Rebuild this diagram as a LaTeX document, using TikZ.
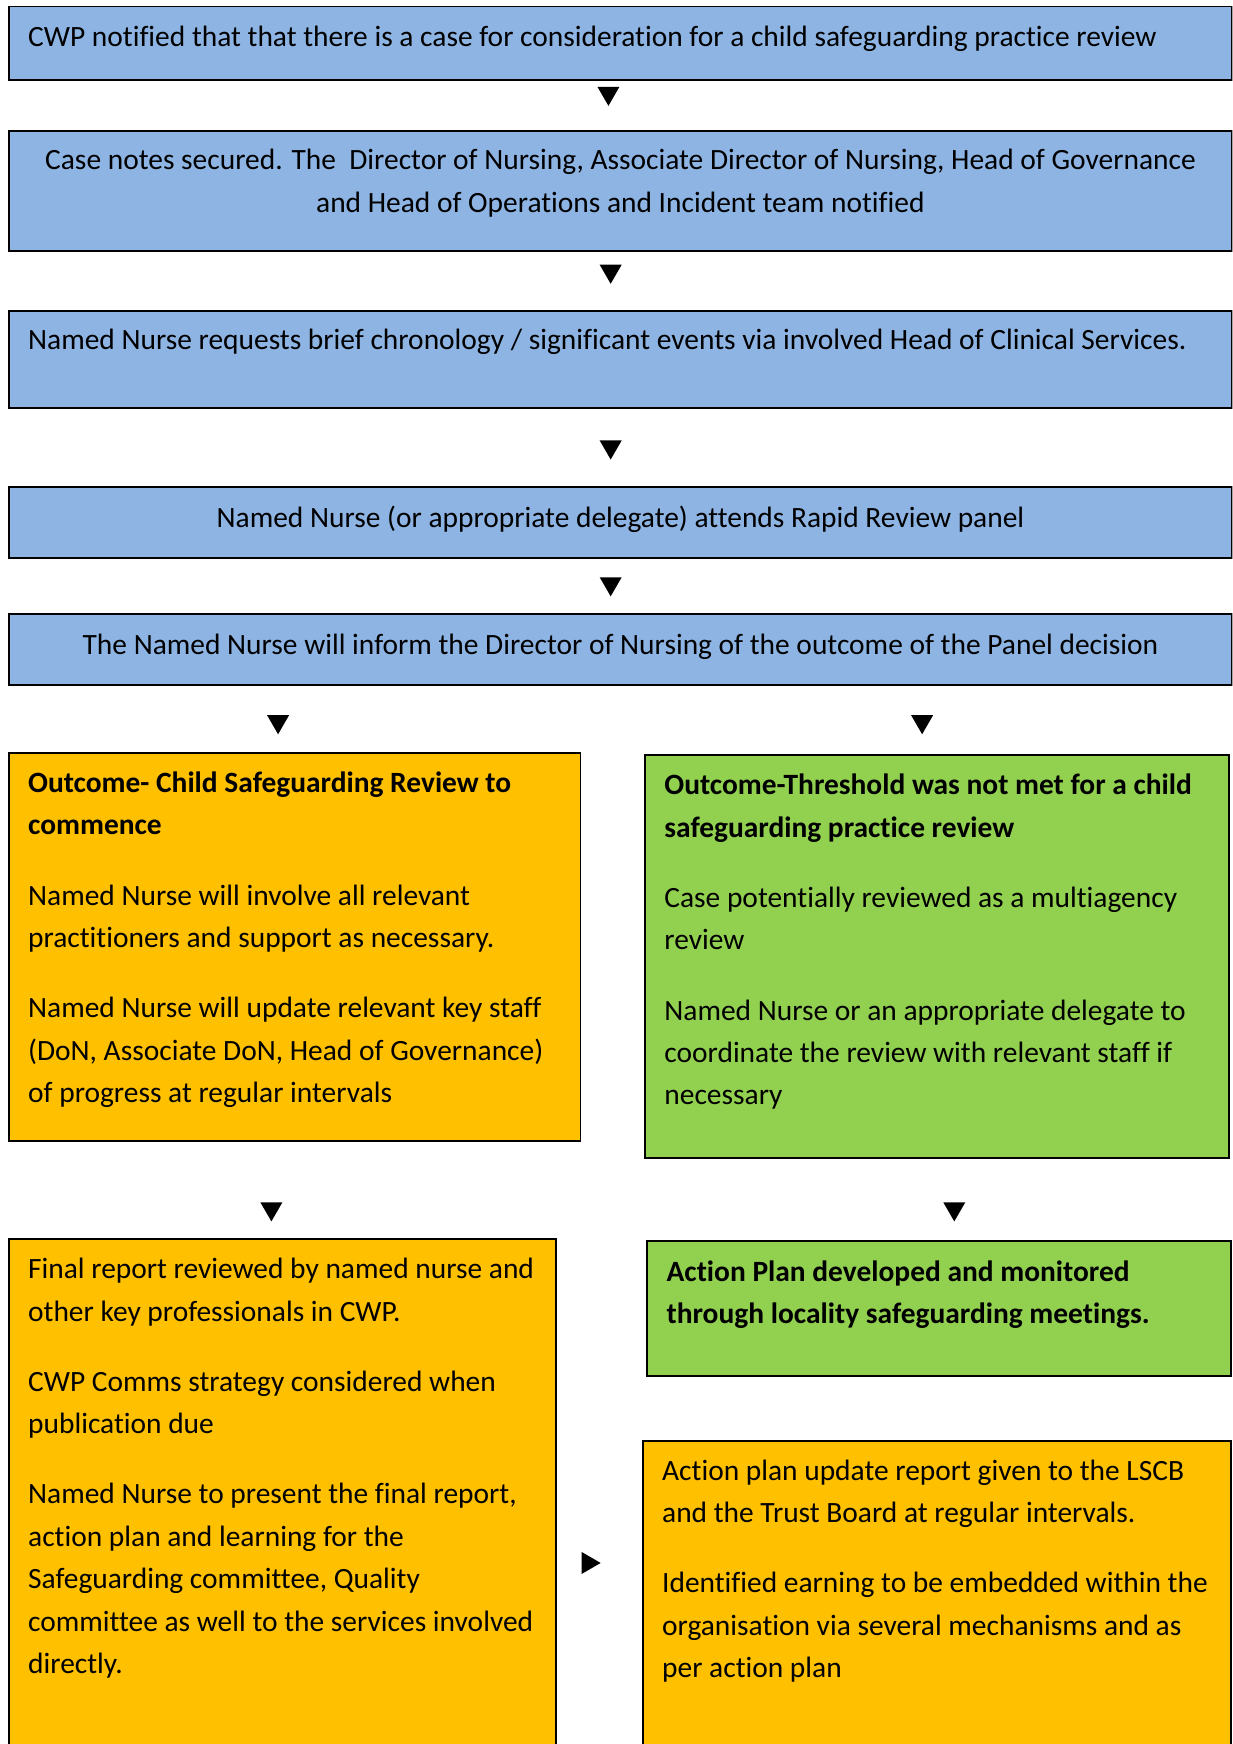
\documentclass[tikz,border=0pt]{standalone}
\usepackage{fontspec}
\setmainfont{Carlito}[Ligatures=NoCommon]
\usepackage{tikz}
\usetikzlibrary{positioning,shapes.geometric}
\definecolor{BoxBlue}{HTML}{8EB4E3}
\definecolor{BoxOrange}{HTML}{FFC000}
\definecolor{BoxGreen}{HTML}{92D050}
\newcommand{\flowfont}{\fontsize{16.75pt}{24.15pt}\selectfont}

\begin{document}
\begin{tikzpicture}[every node/.style={font=\flowfont},
  stage/.style={draw=black, line width=1.1pt, inner sep=0pt, anchor=north west},
  bluebox/.style={stage, fill=BoxBlue, minimum width=24.46cm},
  orangebox/.style={stage, fill=BoxOrange},
  greenbox/.style={stage, fill=BoxGreen},
  txt/.style={align=left, inner sep=0pt},
  midtxt/.style={align=center, inner sep=0pt},
  downtri/.style={regular polygon, regular polygon sides=3, shape border rotate=180,
    fill=black, inner sep=0pt, minimum size=0.508cm}]
  \useasboundingbox (0,0) rectangle (24.64,-34.87);
  \clip (0,0) rectangle (24.64,-34.87);

  % Panel process (blue)
  \node[bluebox, minimum height=1.468cm] (notify) at (0.156,-0.111) {};
  \node[txt, below right=0.398cm and 0.40cm of notify.north west] (notifyTxt)
    {CWP notified that that there is a case for consideration for a child safeguarding practice review};
  \node[bluebox, minimum height=2.402cm] (secure) at (0.156,-2.602) {};
  \node[midtxt, below=0.375cm of secure.north] (secureTxt)
    {Case notes secured. The\ \ Director of Nursing, Associate Director of Nursing, Head of Governance\\
     and Head of Operations and Incident team notified};
  \node[bluebox, minimum height=1.935cm] (chrono) at (0.156,-6.205) {};
  \node[txt, below right=0.375cm and 0.40cm of chrono.north west] (chronoTxt)
    {Named Nurse requests brief chronology / significant events via involved Head of Clinical Services.};
  \node[bluebox, minimum height=1.424cm] (panel) at (0.156,-9.718) {};
  \node[midtxt, below=0.398cm of panel.north] (panelTxt)
    {Named Nurse (or appropriate delegate) attends Rapid Review panel};
  \node[bluebox, minimum height=1.423cm] (inform) at (0.156,-12.254) {};
  \node[midtxt, below=0.419cm of inform.north] (informTxt)
    {The Named Nurse will inform the Director of Nursing of the outcome of the Panel decision};

  % Outcomes
  \node[orangebox, minimum width=11.431cm, minimum height=7.762cm] (review) at (0.156,-15.034) {};
  \node[txt, below right=0.39cm and 0.40cm of review.north west] (reviewTxt)
    {\textbf{Outcome- Child Safeguarding Review to}\\
     \textbf{commence}\\[15.8pt]
     Named Nurse will involve all relevant\\
     practitioners and support as necessary.\\[15.8pt]
     Named Nurse will update relevant key staff\\
     (DoN, Associate DoN, Head of Governance)\\
     of progress at regular intervals};
  \node[greenbox, minimum width=11.676cm, minimum height=8.05cm] (notmet) at (12.877,-15.079) {};
  \node[txt, below right=0.39cm and 0.40cm of notmet.north west] (notmetTxt)
    {\textbf{Outcome-Threshold was not met for a child}\\
     \textbf{safeguarding practice review}\\[15.8pt]
     Case potentially reviewed as a multiagency\\
     review\\[15.8pt]
     Named Nurse or an appropriate delegate to\\
     coordinate the review with relevant staff if\\
     necessary};

  % Follow-up
  \node[orangebox, minimum width=10.942cm, minimum height=11cm] (final) at (0.156,-24.753) {};
  \node[txt, below right=0.396cm and 0.40cm of final.north west] (finalTxt)
    {Final report reviewed by named nurse and\\
     other key professionals in CWP.\\[15.8pt]
     CWP Comms strategy considered when\\
     publication due\\[15.8pt]
     Named Nurse to present the final report,\\
     action plan and learning for the\\
     Safeguarding committee, Quality\\
     committee as well to the services involved\\
     directly.};
  \node[greenbox, minimum width=11.676cm, minimum height=2.691cm] (plan) at (12.921,-24.797) {};
  \node[txt, below right=0.396cm and 0.40cm of plan.north west] (planTxt)
    {\textbf{Action Plan developed and monitored}\\
     \textbf{through locality safeguarding meetings.}};
  \node[orangebox, minimum width=11.765cm, minimum height=7cm] (update) at (12.832,-28.801) {};
  \node[txt, below right=0.375cm and 0.40cm of update.north west] (updateTxt)
    {Action plan update report given to the LSCB\\
     and the Trust Board at regular intervals.\\[15.8pt]
     Identified earning to be embedded within the\\
     organisation via several mechanisms and as\\
     per action plan};

  % Arrow heads
  \foreach \n/\x/\y in {triA/12.165/-1.862, triB/12.21/-5.42, triC/12.21/-8.934,
    triD/12.21/-11.669, triE/5.56/-14.427, triF/18.437/-14.427,
    triG/5.426/-24.167, triH/19.08/-24.167}
    \node[downtri] (\n) at (\x,\y) {};
  \node[downtri, shape border rotate=-90] (triI) at (11.756,-31.25) {};
\end{tikzpicture}
\end{document}
